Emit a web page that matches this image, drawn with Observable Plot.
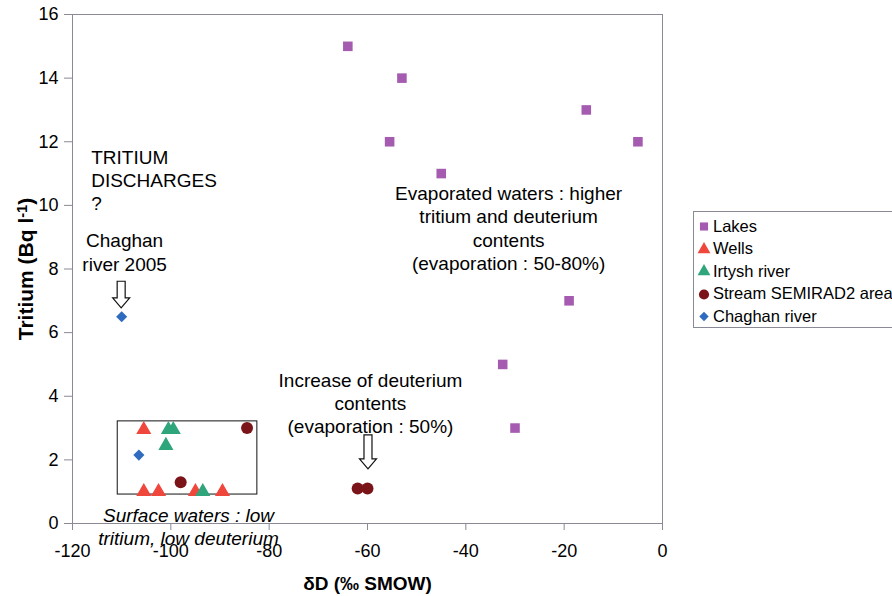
<!DOCTYPE html>
<html><head><meta charset="utf-8">
<script src="https://cdn.jsdelivr.net/npm/d3@7"></script>
<script src="https://cdn.jsdelivr.net/npm/@observablehq/plot@0.6"></script>
<style>
body{margin:0;background:#fff;font-family:"Liberation Sans",Arial,sans-serif;}
#wrap{position:relative;width:892px;height:596px;overflow:hidden;}
#legend{position:absolute;left:693px;top:211px;width:230px;height:117px;border:1px solid #8a8a96;box-sizing:border-box;background:#fff;}
.item{position:absolute;left:0;height:22px;display:flex;align-items:center;font-size:16.5px;color:#000;white-space:nowrap;}
.item svg{margin-left:3px;margin-right:2px;}
</style></head><body><div id="wrap"></div>
<script>
// ---- data ----
const seriesNames = ["Lakes", "Wells", "Irtysh river", "Stream SEMIRAD2 area", "Chaghan river"];
const lakesD = [-64, -53, -55.5, -45, -15.5, -5, -19, -32.5, -30];
const lakesT = [15, 14, 12, 11, 13, 12, 7, 5, 3];
const wellsD = [-105.5, -105.5, -102.5, -95, -89.5];
const wellsT = [2.95, 1.0, 1.0, 1.0, 1.0];
const irtyshD = [-100.5, -99.5, -101, -93.5];
const irtyshT = [2.95, 2.95, 2.45, 1.0];
const streamD = [-84.5, -98, -62, -60];
const streamT = [3, 1.3, 1.1, 1.1];
const chaghanD = [-110, -106.5];
const chaghanT = [6.5, 2.15];

const xTicks = [-120, -100, -80, -60, -40, -20, 0];
const yTicks = [0, 2, 4, 6, 8, 10, 12, 14, 16];

// annotations
const noteText = ["TRITIUM\nDISCHARGES\n?", "Chaghan\nriver 2005",
  "Evaporated waters : higher\ntritium and deuterium\ncontents\n(evaporation : 50-80%)",
  "Increase of deuterium\ncontents\n(evaporation : 50%)"];
const noteD = [-116.2, -109.4, -31.3, -59.4];
const noteT = [10.8, 8.55, 9.3, 3.8];
const noteAnchor = ["start", "middle", "middle", "middle"];
const italicText = ["Surface waters : low\ntritium, low deuterium"];
const italicD = [-96.4];
const italicT = [-0.08];
const boxD = [-110.8, -82.4];
const boxT = [0.91, 3.21];
const arrowD = [-110, -59.8];
const arrowTop = [7.6, 2.77];
const arrowTip = [6.76, 1.7];

// ---- styles ----
const styles = {
  "Lakes": {symbol: "square", fill: "#a55bb0", r: 5.4},
  "Wells": {symbol: "triangle", fill: "#f0473c", r: 5.6},
  "Irtysh river": {symbol: "triangle", fill: "#2fa57b", r: 5.6},
  "Stream SEMIRAD2 area": {symbol: "circle", fill: "#7a1418", r: 6},
  "Chaghan river": {symbol: "diamond2", fill: "#2f6cbf", r: 5}
};
const seriesData = [[lakesD, lakesT], [wellsD, wellsT], [irtyshD, irtyshT], [streamD, streamT], [chaghanD, chaghanT]];
const rows = seriesData.map(([ds, ts], i) => ds.map((d, j) => ({series: seriesNames[i], d, t: ts[j]})));
const notes = noteText.map((text, i) => ({text, d: noteD[i], t: noteT[i], anchor: noteAnchor[i]}));

function arrowMark(index, scales) {
  const g = d3.create("svg:g");
  arrowD.forEach((d, i) => {
    const cx = scales.x(d), y0 = scales.y(arrowTop[i]), y1 = scales.y(arrowTip[i]);
    const sw = 4, hw = 8.5, hh = 10;
    const p = `M${cx - sw},${y0}H${cx + sw}V${y1 - hh}H${cx + hw}L${cx},${y1}L${cx - hw},${y1 - hh}H${cx - sw}Z`;
    g.append("path").attr("d", p).attr("fill", "white").attr("stroke", "#111").attr("stroke-width", 1.2);
  });
  return g.node();
}

const font = "'Liberation Sans', Arial, sans-serif";
const plot = Plot.plot({
  width: 892, height: 596,
  marginLeft: 72, marginRight: 230, marginTop: 14, marginBottom: 73,
  style: {fontFamily: font, fontSize: "18px", color: "#000", background: "white", overflow: "visible"},
  x: {domain: [-120, 0]},
  y: {domain: [0, 16]},
  marks: [
    Plot.frame({stroke: "#8a8a96"}),
    Plot.axisX({ticks: xTicks, tickFormat: d => String(d), tickSize: 7, tickPadding: 14, stroke: "#8a8a96", fill: "#000", fontSize: 18,
      label: "δD (‰ SMOW)", labelAnchor: "center", labelArrow: "none", labelOffset: 66}),
    Plot.axisY({ticks: yTicks, tickFormat: d => String(d), tickSize: 8, tickPadding: 6, stroke: "#8a8a96", fill: "#000", fontSize: 18,
      label: "Tritium (Bq l-1)", labelAnchor: "center", labelArrow: "none", labelOffset: 54}),
    Plot.rect([0], {x1: () => boxD[0], x2: () => boxD[1], y1: () => boxT[0], y2: () => boxT[1], fill: "none", stroke: "#111", strokeWidth: 1}),
    arrowMark,
    ...rows.map((data, i) => {
      const s = styles[seriesNames[i]];
      return Plot.dot(data, {x: "d", y: "t", symbol: () => s.symbol, r: s.r, fill: s.fill, stroke: "none"});
    }),
    Plot.text(notes.filter(n => n.anchor === "start"), {x: "d", y: "t", text: "text", textAnchor: "start", lineAnchor: "middle", lineHeight: 1.2, fontSize: 19, fill: "#000"}),
    Plot.text(notes.filter(n => n.anchor === "middle"), {x: "d", y: "t", text: "text", textAnchor: "middle", lineAnchor: "middle", lineHeight: 1.22, fontSize: 19, fill: "#000"}),
    Plot.text(italicText.map((text, i) => ({text, d: italicD[i], t: italicT[i]})), {x: "d", y: "t", text: "text", textAnchor: "middle", lineAnchor: "middle", lineHeight: 1.22, fontSize: 19, fontStyle: "italic", fill: "#000"})
  ]
});

// bold axis labels, superscript in y label
d3.select(plot).selectAll('g[aria-label$="axis label"]').attr("font-weight", "bold").attr("font-size", 19);
d3.select(plot).select('g[aria-label="y-axis label"]').attr("font-size", 21);
const yl = plot.querySelector('g[aria-label="y-axis label"] text');
if (yl) {
  yl.textContent = "";
  const sel = d3.select(yl);
  sel.append("tspan").text("Tritium (Bq l");
  sel.append("tspan").attr("dy", "-0.45em").attr("font-size", "0.7em").text("-1");
  sel.append("tspan").attr("dy", "0.315em").text(")");
}

const wrap = document.getElementById("wrap");
wrap.appendChild(plot);

// legend
const legend = document.createElement("div");
legend.id = "legend";
seriesNames.forEach((name, i) => {
  const s = styles[name];
  const item = document.createElement("div");
  item.className = "item";
  item.style.top = (3 + i * 22.5) + "px";
  const svg = d3.create("svg").attr("width", 14).attr("height", 14);
  const type = {square: d3.symbolSquare, triangle: d3.symbolTriangle, circle: d3.symbolCircle, diamond2: d3.symbolDiamond2}[s.symbol];
  svg.append("path").attr("transform", "translate(7,7.5)").attr("d", d3.symbol(type, Math.PI * s.r * s.r * 0.72)()).attr("fill", s.fill);
  item.appendChild(svg.node());
  const span = document.createElement("span");
  span.textContent = name;
  item.appendChild(span);
  legend.appendChild(item);
});
wrap.appendChild(legend);
</script>
</body></html>
